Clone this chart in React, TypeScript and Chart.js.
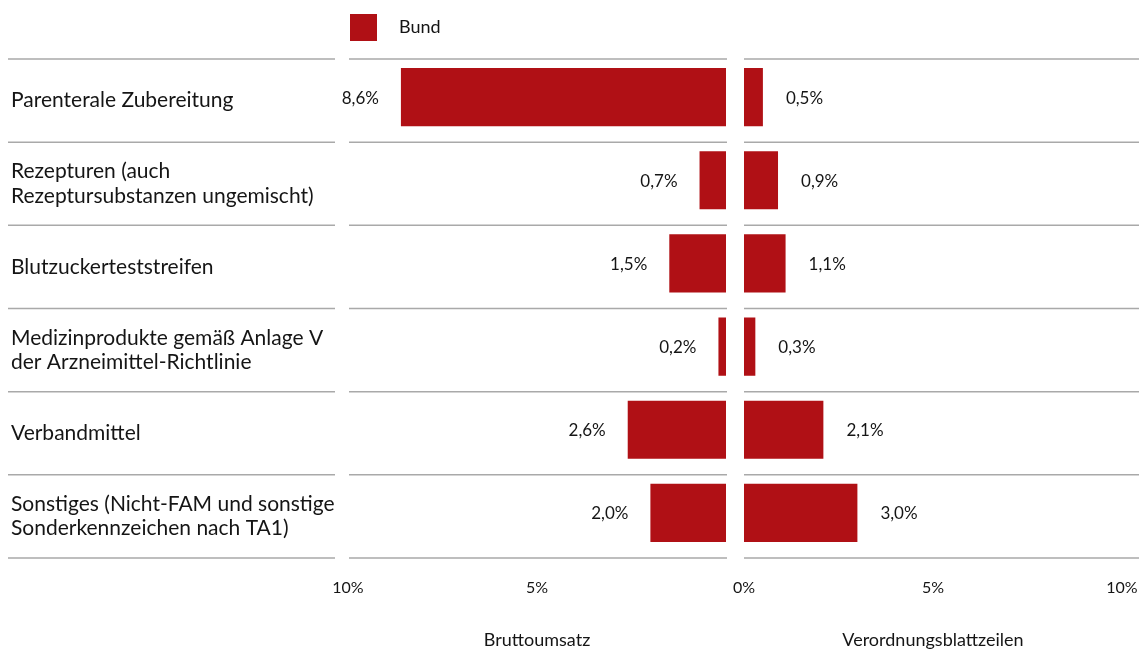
import React, { useEffect, useRef } from "react";
import { Chart, registerables } from "chart.js";

Chart.register(...registerables);

const CATEGORIES: (string | string[])[] = [
  "Parenterale Zubereitung",
  ["Rezepturen (auch", "Rezeptursubstanzen ungemischt)"],
  "Blutzuckerteststreifen",
  ["Medizinprodukte gemäß Anlage V", "der Arzneimittel-Richtlinie"],
  "Verbandmittel",
  ["Sonstiges (Nicht-FAM und sonstige", "Sonderkennzeichen nach TA1)"],
];
const BRUTTOUMSATZ = [8.6, 0.7, 1.5, 0.2, 2.6, 2.0];
const VERORDNUNGSBLATTZEILEN = [0.5, 0.9, 1.1, 0.3, 2.1, 3.0];
const SERIES_LABEL = "Bund";
const TICK_VALUES = [10, 5, 0, 5, 10];
const AXIS_TITLES = ["Bruttoumsatz", "Verordnungsblattzeilen"];

const RED = "#B01015";
const TEXT = "#151515";
const GRID = "#a9a9a9";
const FONT = "Lato, 'Open Sans', sans-serif";
const GAP = 18 / 37.8; // gap between panels in axis units
const MAXV = 10;
const ROW_SHIFT = 3.5; // bars sit slightly above the row centre

const fmt = (v: number) => v.toFixed(1).replace(".", ",") + "%";

export default function App() {
  const ref = useRef<HTMLCanvasElement | null>(null);

  useEffect(() => {
    if (!ref.current) return;

    const separatorPlugin = {
      id: "separators",
      beforeDatasetsDraw(chart: any) {
        const { ctx, chartArea } = chart;
        const y = chart.scales.y;
        const x = chart.scales.x;
        const n = CATEGORIES.length;
        const half = (y.getPixelForValue(1) - y.getPixelForValue(0)) / 2;
        const leftZero = x.getPixelForValue(-GAP);
        const rightZero = x.getPixelForValue(0);
        ctx.save();
        ctx.strokeStyle = GRID;
        ctx.lineWidth = 1.5;
        for (let i = 0; i <= n; i++) {
          const py =
            (i === n ? y.getPixelForValue(n - 1) + half : y.getPixelForValue(i) - half) +
            ROW_SHIFT;
          const segs = [
            [8, chartArea.left - 13],
            [chartArea.left + 1, leftZero + 1],
            [rightZero, chart.width],
          ];
          for (const [a, b] of segs) {
            ctx.beginPath();
            ctx.moveTo(a, py);
            ctx.lineTo(b, py);
            ctx.stroke();
          }
        }
        ctx.restore();
      },
    };

    const valueLabelPlugin = {
      id: "valueLabels",
      afterDatasetsDraw(chart: any) {
        const { ctx } = chart;
        ctx.save();
        ctx.font = `17px ${FONT}`;
        ctx.fillStyle = TEXT;
        ctx.textBaseline = "middle";
        chart.data.datasets.forEach((ds: any, di: number) => {
          const meta = chart.getDatasetMeta(di);
          const src = di === 0 ? BRUTTOUMSATZ : VERORDNUNGSBLATTZEILEN;
          meta.data.forEach((el: any, i: number) => {
            const txt = fmt(src[i]);
            if (di === 0) {
              ctx.textAlign = "right";
              ctx.fillText(txt, Math.min(el.x, el.base) - 22, el.y + 1);
            } else {
              ctx.textAlign = "left";
              ctx.fillText(txt, Math.max(el.x, el.base) + 23, el.y + 1);
            }
          });
        });
        ctx.restore();
      },
    };

    const legendPlugin = {
      id: "customLegend",
      afterDraw(chart: any) {
        const { ctx, chartArea } = chart;
        const x0 = chartArea.left + 2;
        ctx.save();
        ctx.fillStyle = RED;
        ctx.fillRect(x0, 14, 27, 27);
        ctx.fillStyle = TEXT;
        ctx.font = `18px ${FONT}`;
        ctx.textAlign = "left";
        ctx.textBaseline = "middle";
        ctx.fillText(chart.data.datasets[0].label, x0 + 49, 27);
        ctx.restore();
      },
    };

    const chart = new Chart(ref.current, {
      type: "bar",
      data: {
        labels: CATEGORIES as any,
        datasets: [
          {
            label: SERIES_LABEL,
            data: BRUTTOUMSATZ.map((v) => [-GAP - v, -GAP]) as any,
            backgroundColor: RED,
            borderWidth: 0,
            grouped: false,
            categoryPercentage: 1,
            barPercentage: 0.7,
            xAxisID: "x",
          },
          {
            label: SERIES_LABEL,
            data: VERORDNUNGSBLATTZEILEN.map((v) => [0, v]) as any,
            backgroundColor: RED,
            borderWidth: 0,
            grouped: false,
            categoryPercentage: 1,
            barPercentage: 0.7,
            xAxisID: "x",
          },
        ],
      },
      options: {
        indexAxis: "y",
        animation: false,
        responsive: false,
        layout: { padding: { top: 59 - ROW_SHIFT, left: 11, right: 0, bottom: 0 } },
        plugins: {
          legend: { display: false },
          tooltip: { enabled: false },
          title: { display: false },
        },
        scales: {
          x: {
            type: "linear",
            position: "bottom",
            min: -MAXV - GAP,
            max: MAXV,
            grid: { display: false, drawTicks: false },
            border: { display: false },
            afterBuildTicks(scale: any) {
              scale.ticks = [
                { value: -TICK_VALUES[0] - GAP },
                { value: -TICK_VALUES[1] - GAP },
                { value: TICK_VALUES[2] },
                { value: TICK_VALUES[3] },
                { value: TICK_VALUES[4] },
              ];
            },
            afterFit(scale: any) {
              scale.height = 40 + ROW_SHIFT;
              scale.paddingRight = 17;
              scale.paddingLeft = 0;
            },
            ticks: {
              padding: 20 + ROW_SHIFT,
              color: TEXT,
              font: { family: FONT, size: 16 },
              maxRotation: 0,
              minRotation: 0,
              autoSkip: false,
              callback: (_v: any, i: number) => TICK_VALUES[i] + "%",
            },
          },
          x2: {
            type: "linear",
            position: "bottom",
            min: -MAXV - GAP,
            max: MAXV,
            grid: { display: false, drawTicks: false },
            border: { display: false },
            afterBuildTicks(scale: any) {
              scale.ticks = [{ value: -5 - GAP }, { value: 5 }];
            },
            afterFit(scale: any) {
              scale.height = 53;
              scale.paddingRight = 0;
              scale.paddingLeft = 0;
            },
            ticks: {
              padding: 31,
              color: TEXT,
              font: { family: FONT, size: 18 },
              maxRotation: 0,
              minRotation: 0,
              autoSkip: false,
              callback: (_v: any, i: number) => AXIS_TITLES[i],
            },
          },
          y: {
            type: "category",
            position: "left",
            grid: { display: false, drawTicks: false },
            border: { display: false },
            afterFit(scale: any) {
              scale.width = 337;
              scale.paddingTop = 0;
              scale.paddingBottom = 0;
            },
            ticks: {
              crossAlign: "far",
              padding: 0,
              labelOffset: ROW_SHIFT,
              color: TEXT,
              font: { family: FONT, size: 21, lineHeight: 1.15 },
              autoSkip: false,
            },
          },
        },
      } as any,
      plugins: [separatorPlugin, valueLabelPlugin, legendPlugin],
    });
    return () => chart.destroy();
  }, []);

  return (
    <div style={{ position: "fixed", left: 0, top: 0, width: 1139, height: 651, background: "#fff" }}>
      <canvas ref={ref} width={1139} height={651} style={{ width: 1139, height: 651 }} />
    </div>
  );
}
